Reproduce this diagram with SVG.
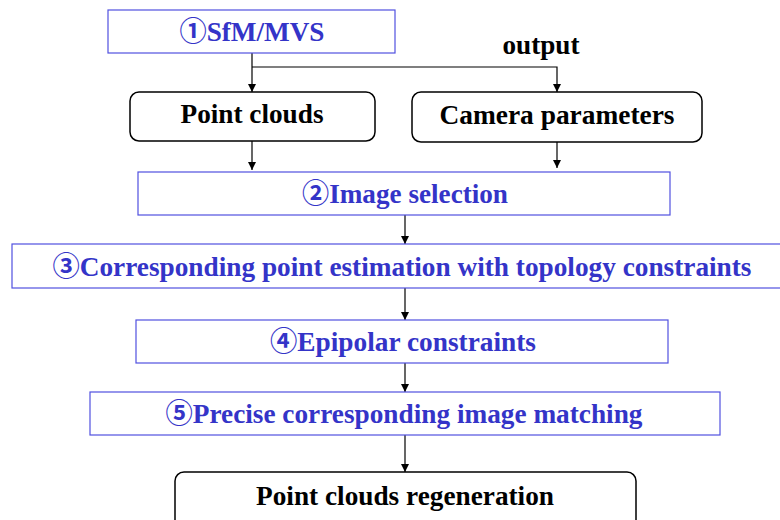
<svg xmlns="http://www.w3.org/2000/svg" width="780" height="520" viewBox="0 0 780 520">
<style>
.bx{fill:#fff;stroke:#5050e0;stroke-width:1.2}
.rb{fill:#fff;stroke:#000;stroke-width:1.5}
.bt{font-family:'Liberation Serif',serif;font-weight:700;font-size:27px;fill:#3434c8;text-anchor:middle}
.kt{font-family:'Liberation Serif',serif;font-weight:700;font-size:27px;fill:#000;text-anchor:middle}
.cd{font-family:'Noto Sans CJK SC','Noto Sans CJK JP',sans-serif;font-weight:700}
.ln{stroke:#000;stroke-width:1.2;fill:none}
</style>
<defs>
<marker id="ah" markerWidth="8" markerHeight="8" refX="8" refY="4" orient="auto" markerUnits="userSpaceOnUse">
<path d="M0,0 L8,4 L0,8 Z" fill="#000"/>
</marker>
</defs>
<rect width="780" height="520" fill="#fff"/>
<g id="connectors">
<line class="ln" x1="252" y1="53" x2="252" y2="92" marker-end="url(#ah)"/>
<polyline class="ln" points="252,67 557,67 557,92" marker-end="url(#ah)"/>
<line class="ln" x1="252" y1="141" x2="252" y2="170" marker-end="url(#ah)"/>
<line class="ln" x1="557" y1="142" x2="557" y2="168" marker-end="url(#ah)"/>
<line class="ln" x1="405" y1="215" x2="405" y2="244" marker-end="url(#ah)"/>
<line class="ln" x1="405" y1="288" x2="405" y2="320" marker-end="url(#ah)"/>
<line class="ln" x1="405" y1="363" x2="405" y2="392" marker-end="url(#ah)"/>
<line class="ln" x1="405" y1="435" x2="405" y2="472" marker-end="url(#ah)"/>
<text class="kt" x="541" y="54" textLength="77" lengthAdjust="spacingAndGlyphs">output</text>
</g>
<g id="n1"><rect class="bx" x="108" y="10" width="287" height="43"/><text class="bt" x="252" y="41" textLength="145" lengthAdjust="spacingAndGlyphs"><tspan class="cd">①</tspan>SfM/MVS</text></g>
<g id="n-pc"><rect class="rb" x="130" y="92" width="245" height="49" rx="9"/><text class="kt" x="252" y="123" textLength="143" lengthAdjust="spacingAndGlyphs">Point clouds</text></g>
<g id="n-cam"><rect class="rb" x="412" y="92" width="290" height="50" rx="9"/><text class="kt" x="557" y="124" textLength="235" lengthAdjust="spacingAndGlyphs">Camera parameters</text></g>
<g id="n2"><rect class="bx" x="138" y="172" width="532" height="43"/><text class="bt" x="405" y="203" textLength="206" lengthAdjust="spacingAndGlyphs"><tspan class="cd">②</tspan>Image selection</text></g>
<g id="n3"><rect class="bx" x="12" y="244" width="780" height="44"/><text class="bt" x="402" y="276" textLength="699" lengthAdjust="spacingAndGlyphs"><tspan class="cd">③</tspan>Corresponding point estimation with topology constraints</text></g>
<g id="n4"><rect class="bx" x="136" y="320" width="532" height="43"/><text class="bt" x="403" y="351" textLength="266" lengthAdjust="spacingAndGlyphs"><tspan class="cd">④</tspan>Epipolar constraints</text></g>
<g id="n5"><rect class="bx" x="90" y="392" width="630" height="43"/><text class="bt" x="404" y="423" textLength="477" lengthAdjust="spacingAndGlyphs"><tspan class="cd">⑤</tspan>Precise corresponding image matching</text></g>
<g id="n6"><rect class="rb" x="175" y="472" width="461" height="60" rx="9"/><text class="kt" x="405" y="505" textLength="298" lengthAdjust="spacingAndGlyphs">Point clouds regeneration</text></g>
</svg>
